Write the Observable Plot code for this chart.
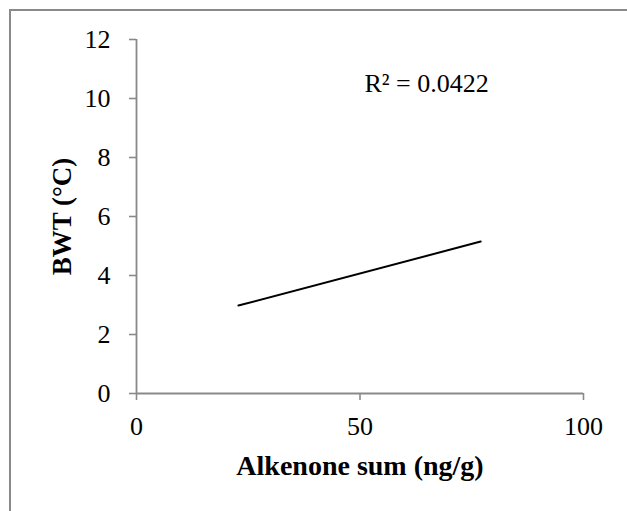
<!DOCTYPE html>
<html>
<head>
<meta charset="utf-8">
<script src="https://cdn.jsdelivr.net/npm/d3@7"></script>
<script src="https://cdn.jsdelivr.net/npm/@observablehq/plot@0.6"></script>
<style>
  html, body { margin: 0; padding: 0; background: #fff; overflow: hidden; width: 627px; height: 511px; }
  #frame { position: absolute; left: 9px; top: 9px; width: 700px; height: 600px; border: 2px solid #8a8a8a; box-sizing: border-box; }
  #chart { position: absolute; left: 0; top: 0; }
</style>
</head>
<body>
<div id="frame"></div>
<div id="chart"></div>
<script>
// Trendline endpoints (Alkenone sum, BWT)
const trendX = [22.8, 77.0];
const trendY = [2.98, 5.15];
// Annotation
const annotText = ["R\u00B2 = 0.0422"];
const annotX = [51];
const annotY = [10.5];
// Axis ticks
const xTicks = [0, 50, 100];
const yTicks = [0, 2, 4, 6, 8, 10, 12];
const xTitle = "Alkenone sum (ng/g)";
const yTitle = "BWT (°C)";

const trend = trendX.map((x, i) => ({x, y: trendY[i]}));
const annot = annotText.map((t, i) => ({t, x: annotX[i], y: annotY[i]}));

const axisColor = "#898989";
const font = "Liberation Serif, DejaVu Serif, serif";

const plot = Plot.plot({
  width: 627,
  height: 511,
  marginLeft: 136,
  marginRight: 44,
  marginTop: 39,
  marginBottom: 118,
  style: { fontFamily: font, fontSize: "26px", color: "#000", background: "transparent" },
  x: { domain: [0, 100], ticks: xTicks },
  y: { domain: [0, 12], ticks: yTicks },
  marks: [
    Plot.axisX(xTicks, { tickSize: 7, tickPadding: 16, stroke: axisColor, strokeWidth: 1.6, fill: "#000", label: null, fontSize: 26 }),
    Plot.axisY(yTicks, { tickSize: 7, tickPadding: 19, stroke: axisColor, strokeWidth: 1.6, fill: "#000", label: null, fontSize: 26 }),
    Plot.ruleY([0], { stroke: axisColor, strokeWidth: 1.8 }),
    Plot.ruleX([0], { stroke: axisColor, strokeWidth: 1.8 }),
    Plot.line(trend, { x: "x", y: "y", stroke: "#000", strokeWidth: 2 }),
    Plot.text(annot, { x: "x", y: "y", text: "t", textAnchor: "start", fontSize: 26, fill: "#000" }),
    Plot.text([xTitle], { frameAnchor: "bottom", textAnchor: "middle", lineAnchor: "middle", dy: 73, fontWeight: "bold", fontSize: 28, fill: "#000" }),
    Plot.text([yTitle], { frameAnchor: "left", textAnchor: "middle", lineAnchor: "middle", dx: -74, rotate: -90, fontWeight: "bold", fontSize: 27, fill: "#000" })
  ]
});
document.getElementById("chart").appendChild(plot);
</script>
</body>
</html>
